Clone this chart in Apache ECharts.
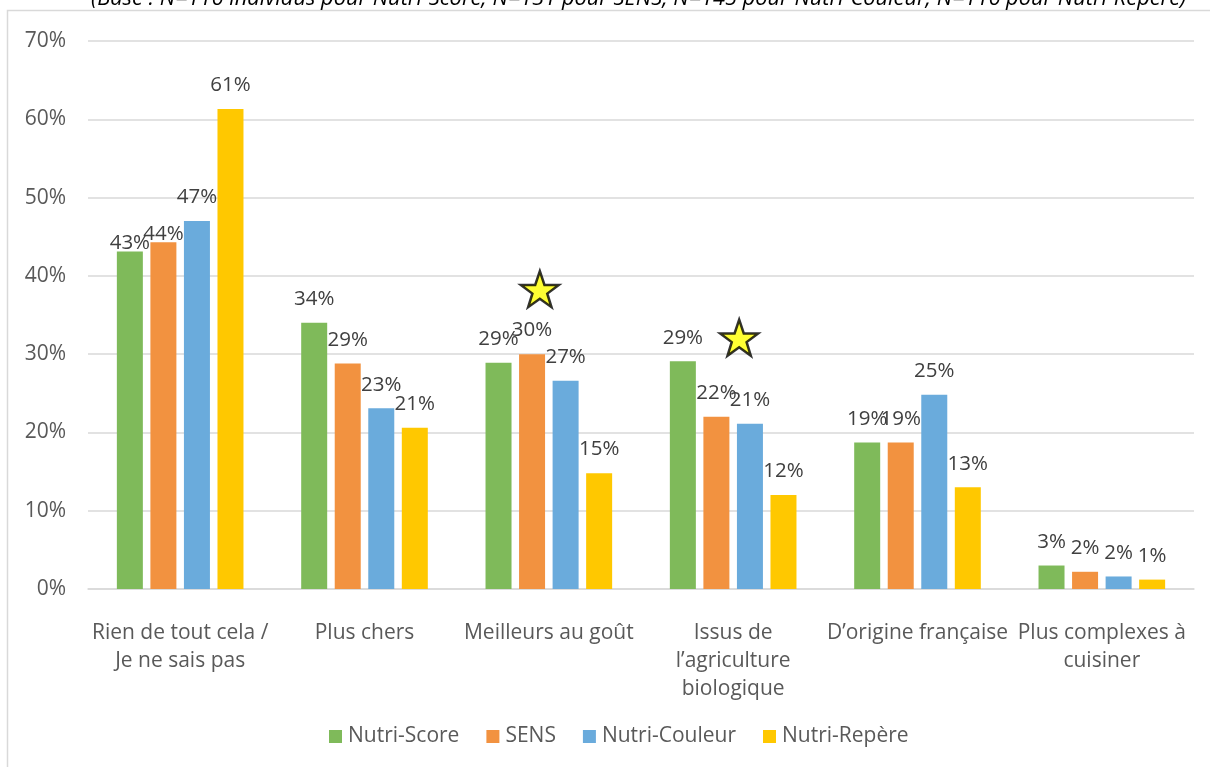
<!DOCTYPE html>
<html>
<head>
<meta charset="utf-8">
<script src="https://cdn.jsdelivr.net/npm/echarts@6/dist/echarts.min.js"></script>
<style>
html,body{margin:0;padding:0;background:#fff;}
#chart{width:1210px;height:767px;}
</style>
</head>
<body>
<div id="chart"></div>
<script>
const categories = ["Rien de tout cela /\nJe ne sais pas", "Plus chers", "Meilleurs au goût", "Issus de\nl’agriculture\nbiologique", "D’origine française", "Plus complexes à\ncuisiner"];
const seriesNames = ["Nutri-Score", "SENS", "Nutri-Couleur", "Nutri-Repère"];
const nutriScore = [43.1, 34.0, 28.9, 29.1, 18.7, 3.0];
const sens = [44.3, 28.8, 30.0, 22.0, 18.7, 2.2];
const nutriCouleur = [47.0, 23.1, 26.6, 21.1, 24.8, 1.6];
const nutriRepere = [61.3, 20.6, 14.8, 12.0, 13.0, 1.2];
const yTicks = [0, 10, 20, 30, 40, 50, 60, 70];
const starCategories = ["Meilleurs au goût", "Issus de\nl’agriculture\nbiologique"];
const starValues = [38.3, 32.1];
const subtitle = "(Base : N=116 individus pour Nutri-Score, N=131 pour SENS, N=145 pour Nutri-Couleur, N=116 pour Nutri-Repère)";

const colors = ["#7fba5a", "#f29240", "#6aabdc", "#ffc800"];
const values = [nutriScore, sens, nutriCouleur, nutriRepere];
const FONT = "'Open Sans', sans-serif";
// labels moved down in the first group (series index -> category index)
const loweredLabels = {0: [0], 1: [0]};

const chart = echarts.init(document.getElementById('chart'), null, {renderer: 'canvas'});
const barSeries = seriesNames.map((n, i) => ({
  name: n,
  type: 'bar',
  data: values[i].map((v, j) => (loweredLabels[i] && loweredLabels[i].includes(j))
    ? {value: v, label: {offset: [0, 15]}} : v),
  barWidth: 26,
  barGap: '29%',
  barCategoryGap: '31%',
  itemStyle: {color: colors[i]},
  label: {
    show: true, position: 'top', distance: 13,
    formatter: p => Math.round(p.value) + '%',
    fontFamily: FONT, fontSize: 20.5, color: '#404040'
  }
}));
const starPath = 'path://M50,0 L61.8,35 L98,35 L68.8,56.7 L79.4,91 L50,70 L20.6,91 L31.2,56.7 L2,35 L38.2,35 Z';
const starSeries = {
  name: 'stars',
  type: 'scatter',
  data: [
    {value: [starCategories[0], starValues[0]], symbolOffset: [-9, 0]},
    {value: [starCategories[1], starValues[1]], symbolOffset: [6, 0]}
  ],
  symbol: starPath,
  symbolSize: [38, 36],
  itemStyle: {color: '#ffff00', borderColor: '#000', borderWidth: 2.5},
  z: 10, silent: true
};

chart.setOption({
  animation: false,
  backgroundColor: '#fff',
  title: {
    text: subtitle, left: 86, top: -17,
    textStyle: {fontFamily: FONT, fontStyle: 'italic', fontWeight: 'normal', fontSize: 21.8, color: '#000'}
  },
  graphic: [{
    type: 'rect', z: -1, silent: true,
    shape: {x: 7.5, y: 10.5, width: 1240, height: 800},
    style: {fill: 'none', stroke: '#d9d9d9', lineWidth: 1.5}
  }],
  grid: {left: 88, right: 16, top: 41, bottom: 178, containLabel: false},
  legend: {
    data: seriesNames, bottom: 15, left: 324,
    icon: 'rect', itemWidth: 13, itemHeight: 13, itemGap: 27,
    textStyle: {fontFamily: FONT, fontSize: 21, color: '#595959', padding: [0, 0, 0, 1]}
  },
  xAxis: {
    type: 'category', data: categories,
    axisLine: {lineStyle: {color: '#d9d9d9', width: 1.5}},
    axisTick: {show: false},
    axisLabel: {interval: 0, margin: 30, fontFamily: FONT, fontSize: 21, color: '#595959', lineHeight: 28}
  },
  yAxis: {
    type: 'value', min: yTicks[0], max: yTicks[yTicks.length - 1], interval: 10,
    axisLine: {show: false}, axisTick: {show: false},
    splitLine: {lineStyle: {color: '#d9d9d9', width: 1.5}},
    axisLabel: {formatter: v => v + '%', margin: 22, fontFamily: FONT, fontSize: 21, color: '#595959'}
  },
  series: [...barSeries, starSeries]
});
</script>
</body>
</html>
